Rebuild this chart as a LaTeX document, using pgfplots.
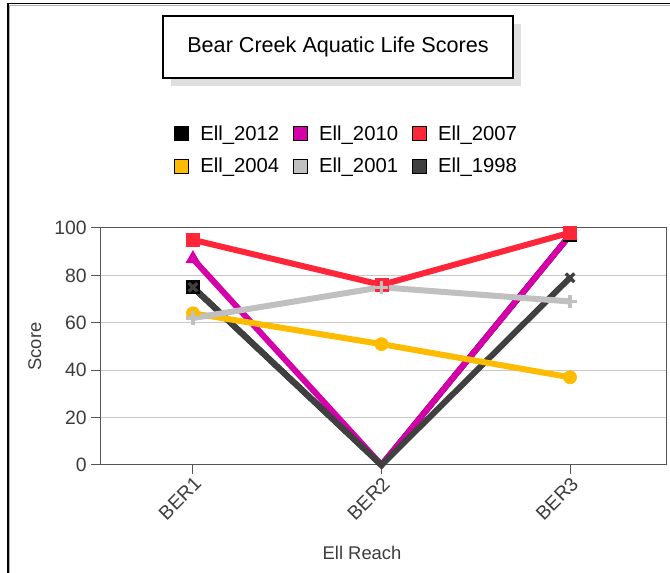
\documentclass[border=0pt]{standalone}
\usepackage{fontspec}
\setmainfont{Liberation Sans}
\usepackage{pgfplots}
\pgfplotsset{compat=1.18}

\definecolor{c2012}{RGB}{0,0,0}
\definecolor{c2010}{RGB}{214,0,170}
\definecolor{c2007}{RGB}{255,38,58}
\definecolor{c2004}{RGB}{255,187,0}
\definecolor{c2001}{RGB}{192,192,192}
\definecolor{c1998}{RGB}{64,64,64}
\definecolor{txt}{RGB}{60,60,60}
\definecolor{axisc}{RGB}{85,85,85}
\definecolor{gridc}{RGB}{200,200,200}

\begin{document}
\begin{tikzpicture}
\path[use as bounding box] (0,0) rectangle (502.5pt,429.75pt);
% frame, top and left only
\draw[gray!60, line width=0.75pt] (7.4pt,0) -- (7.4pt,425.9pt) -- (502.5pt,425.9pt);
\draw[black, line width=1pt] (6pt,0) -- (6pt,427pt) -- (502.5pt,427pt);
% title box with shadow
\fill[gray!25] (128.25pt,365.25pt) rectangle (390.75pt,411.75pt);
\draw[black, fill=white, line width=0.9pt] (122.25pt,371.25pt) rectangle (384.75pt,417.75pt);
\node[font=\fontsize{16.2pt}{19pt}\selectfont] at (253.5pt,394.5pt) {Bear Creek Aquatic Life Scores};

\begin{axis}[
  at={(75pt,81pt)}, anchor=south west,
  scale only axis, width=424.5pt, height=177.75pt,
  xmin=-0.493, xmax=2.509, ymin=0, ymax=100,
  xtick={0,1,2}, xticklabels={BER1,BER2,BER3},
  ytick={0,20,...,100},
  ymajorgrids, grid style={gridc, line width=0.75pt},
  axis line style={axisc, line width=0.75pt},
  tick style={axisc, line width=0.75pt},
  tick align=outside, major tick length=6.5pt,
  xtick pos=bottom, ytick pos=left,
  /pgf/number format/assume math mode=true,
  ticklabel style={font=\fontsize{14.5pt}{17pt}\selectfont, text=txt},
  xticklabel style={rotate=45, anchor=north east, inner sep=1pt},
  xlabel={Ell Reach}, ylabel={Score},
  every axis x label/.style={at={(axis description cs:0.463,-0.371)}, anchor=center, font=\fontsize{13.8pt}{16pt}\selectfont, text=txt},
  every axis y label/.style={at={(axis description cs:-0.115,0.5)}, rotate=90, anchor=center, font=\fontsize{13.8pt}{16pt}\selectfont, text=txt},
  clip=false,
  legend style={at={(axis description cs:0.434,1.329)}, anchor=center, draw=none, fill=none,
    font=\fontsize{15.2pt}{18pt}\selectfont, legend columns=3,
    nodes={inner sep=0pt},
    /tikz/every odd column/.append style={column sep=8.25pt},
    /tikz/every even column/.append style={column sep=10.5pt},
    row sep=12pt},
  legend cell align=left,
  legend image code/.code={\draw[#1, draw=black, line width=0.75pt] (0pt,-5.25pt) rectangle (10.5pt,5.25pt);},
]
\addlegendimage{fill=c2012}
\addlegendimage{fill=c2010}
\addlegendimage{fill=c2007}
\addlegendimage{fill=c2004}
\addlegendimage{fill=c2001}
\addlegendimage{fill=c1998}
\legend{Ell\_2012,Ell\_2010,Ell\_2007,Ell\_2004,Ell\_2001,Ell\_1998}

\addplot[forget plot, c2012, line width=4.5pt, mark=square*, mark size=4.9pt, mark indices={1,3}, mark options={solid, line width=0.5pt}]
  coordinates {(0,75)(1,0)(2,97)};
\addplot[forget plot, c2010, line width=4.5pt, mark=triangle*, mark size=6pt, mark indices={1,3}, mark options={solid, line width=0.5pt}]
  coordinates {(0,87)(1,0)(2,97)};
\addplot[forget plot, c2007, line width=4.5pt, mark=square*, mark size=4.9pt, mark options={solid, line width=0.5pt}]
  coordinates {(0,95)(1,76)(2,98)};
\addplot[forget plot, c1998, line width=4.5pt, mark=x, mark size=4.5pt, mark indices={1,3}, mark options={solid, line width=2.5pt}]
  coordinates {(0,75)(1,0)(2,79)};
\addplot[forget plot, c2004, line width=4.5pt, mark=*, mark size=4.9pt, mark options={solid, line width=0.5pt}]
  coordinates {(0,64)(1,51)(2,37)};
\addplot[forget plot, c2001, line width=4.5pt, mark=+, mark size=5pt, mark options={solid, line width=2.5pt}]
  coordinates {(0,62)(1,75)(2,69)};
\end{axis}
\end{tikzpicture}
\end{document}
